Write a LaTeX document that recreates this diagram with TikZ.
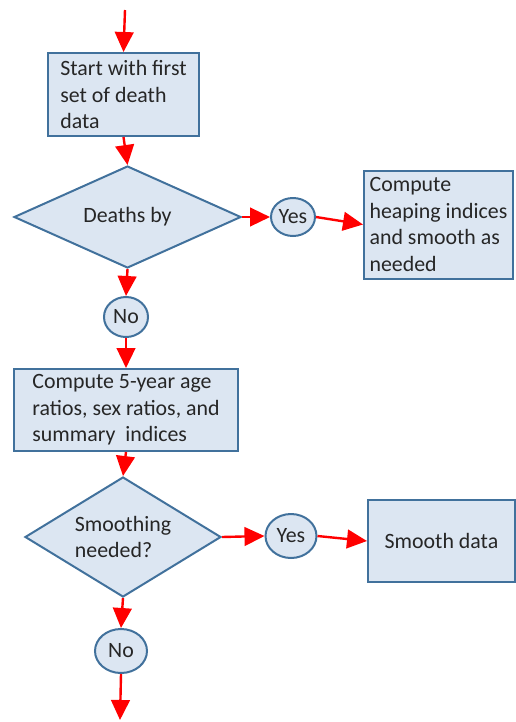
\documentclass[tikz,border=0pt]{standalone}
\usepackage{fontspec}
\setmainfont{Carlito}
\usetikzlibrary{shapes.geometric,arrows.meta}
\definecolor{boxfill}{RGB}{220,230,242}
\definecolor{boxline}{RGB}{65,113,156}
\definecolor{textgray}{RGB}{38,38,38}
\begin{document}
\begin{tikzpicture}[x=0.75pt,y=0.75pt,yscale=-1,xscale=1,
  box/.style={draw=boxline,fill=boxfill,line width=1.5pt,align=left,text=textgray,inner sep=0pt},
  decision/.style={diamond,draw=boxline,fill=boxfill,line width=1.5pt,align=left,text=textgray,inner sep=0pt},
  answer/.style={ellipse,draw=boxline,fill=boxfill,line width=1.5pt,text=textgray,inner sep=0pt},
  flow/.style={draw=red,line width=1.8pt,-{Triangle[length=15pt,width=14pt]}},
  font=\fontsize{16.4}{19.9}\selectfont]
\useasboundingbox (0,0) rectangle (516,722);

%Shape: Rectangle [id:start]
\node [box,minimum width=113.25pt,minimum height=62.25pt] (start) at (123.5,94.5) {Start with first\\set of death\\data};
%Shape: Diamond [id:deaths]
\node [decision,aspect=2.2,minimum width=170.25pt,minimum height=76.5pt] (deaths) at (127.5,217) {Deaths by};
%Shape: Ellipse [id:yesone]
\node [answer,minimum width=33pt,minimum height=28.5pt] (yesone) at (293,217) {Yes};
%Shape: Rectangle [id:heaping]
\node [box,minimum width=111.75pt,minimum height=81pt] (heaping) at (438.5,224.5) {Compute\\heaping indices\\and smooth as\\needed};
%Shape: Ellipse [id:noone]
\node [answer,minimum width=33pt,minimum height=30pt] (noone) at (126,317) {No};
%Shape: Rectangle [id:ratios]
\node [box,minimum width=168pt,minimum height=61.5pt] (ratios) at (126,410) {Compute 5-year age\\ratios, sex ratios, and\\summary~ indices};
%Shape: Diamond [id:smoothing]
\node [decision,aspect=1.63,minimum width=147pt,minimum height=90pt] (smoothing) at (123,537) {Smoothing\\needed?};
%Shape: Ellipse [id:yestwo]
\node [answer,minimum width=38.25pt,minimum height=33pt] (yestwo) at (291,536) {Yes};
%Shape: Rectangle [id:smooth]
\node [box,minimum width=110.25pt,minimum height=61.5pt] (smooth) at (441.5,541) {Smooth data};
%Shape: Ellipse [id:notwo]
\node [answer,minimum width=39pt,minimum height=33pt] (notwo) at (121,651) {No};

%Free ends
\coordinate (entry) at (125,10);
\coordinate (exit) at (120,720);

%Straight Lines
\draw [flow] (entry) -- (start.north);
\draw [flow] (start.south) -- (deaths.north);
\draw [flow] (deaths.east) -- (yesone.west);
\draw [flow] (yesone.east) -- (heaping.west);
\draw [flow] (deaths.south) -- (noone.north);
\draw [flow] (noone.south) -- (ratios.north);
\draw [flow] (ratios.south) -- (smoothing.north);
\draw [flow] (smoothing.east) -- (yestwo.west);
\draw [flow] (yestwo.east) -- (smooth.west);
\draw [flow] (smoothing.south) -- (notwo.north);
\draw [flow] (notwo.south) -- (exit);
\end{tikzpicture}
\end{document}
